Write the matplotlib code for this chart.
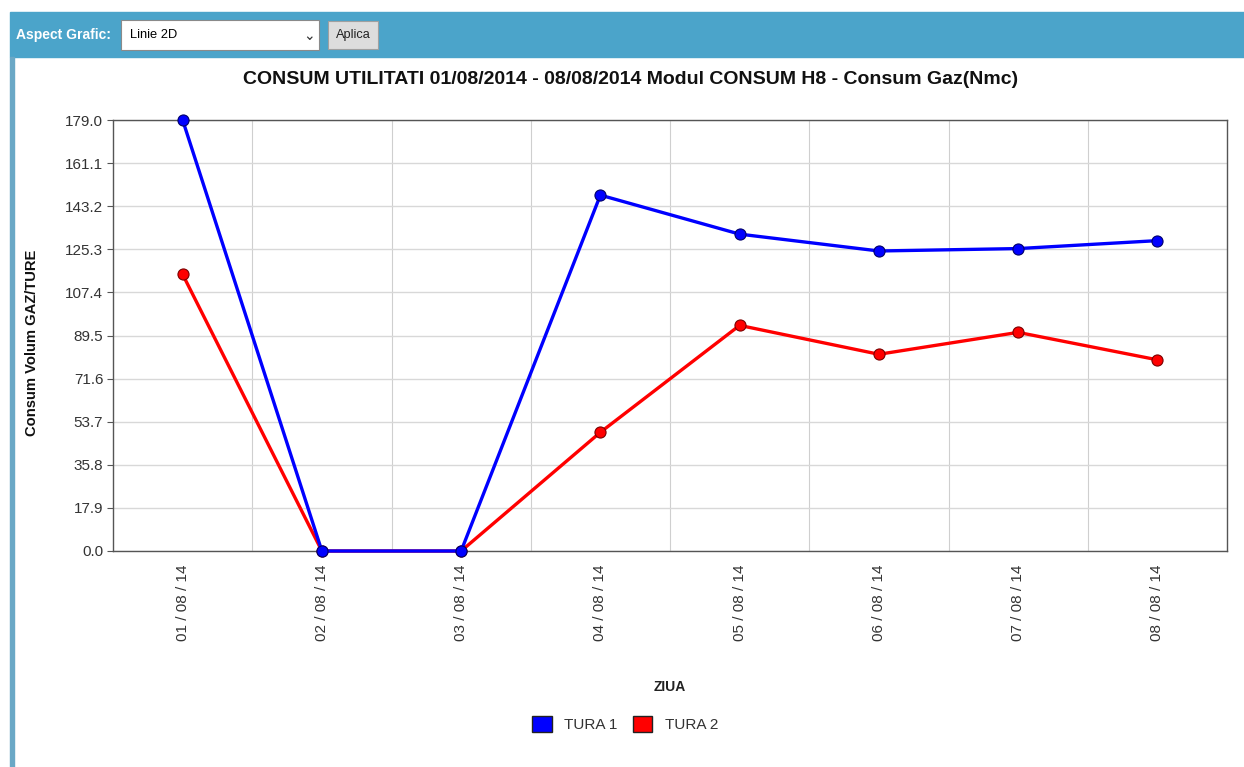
import matplotlib.pyplot as plt
from matplotlib.patches import Rectangle, Patch
import numpy as np

plt.rcParams["font.family"] = ["Liberation Sans", "DejaVu Sans"]

zile = ["01 / 08 / 14", "02 / 08 / 14", "03 / 08 / 14", "04 / 08 / 14",
        "05 / 08 / 14", "06 / 08 / 14", "07 / 08 / 14", "08 / 08 / 14"]
tura1 = [179.0, 0.0, 0.0, 147.8, 131.6, 124.6, 125.6, 128.9]
tura2 = [114.9, 0.0, 0.0, 49.3, 93.7, 81.7, 90.8, 79.4]
y_ticks = [0.0, 17.9, 35.8, 53.7, 71.6, 89.5, 107.4, 125.3, 143.2, 161.1, 179.0]

W, H = 1244, 767
fig = plt.figure(figsize=(W / 100, H / 100), dpi=100)

def fx(px):
    return px / W

def fy(py):
    return 1 - py / H

# bara de sus a paginii
azul = "#4ba4ca"
fig.patches.append(Rectangle((fx(10), fy(57)), fx(1234), fy(12) - fy(57),
                             transform=fig.transFigure, color=azul, zorder=0))
fig.patches.append(Rectangle((fx(10), 0), fx(4), fy(57),
                             transform=fig.transFigure, color="#6aa8c6", zorder=0))
fig.text(fx(16), fy(35), "Aspect Grafic:", color="white", fontsize=10,
         fontweight="bold", va="center", ha="left")
fig.patches.append(Rectangle((fx(121), fy(50)), fx(198), fy(20) - fy(50),
                             transform=fig.transFigure, facecolor="white",
                             edgecolor="#8a8a8a", lw=0.8, zorder=1))
fig.text(fx(130), fy(35), "Linie 2D", color="black", fontsize=9.3, va="center")
fig.text(fx(309), fy(36), "\u2304", color="#333333", fontsize=10, va="center",
         ha="center", family=["DejaVu Sans"])
fig.patches.append(Rectangle((fx(328), fy(49)), fx(50), fy(21) - fy(49),
                             transform=fig.transFigure, facecolor="#dddddd",
                             edgecolor="#a0a0a0", lw=0.8, zorder=1))
fig.text(fx(353), fy(35), "Aplica", color="#222222", fontsize=9.2,
         va="center", ha="center")

# graficul
ax = fig.add_axes([fx(113), fy(551), fx(1227) - fx(113), fy(120) - fy(551)])
x = np.arange(len(zile))

ax.plot(x, tura1, color="#0000ff", lw=2.4, marker="o", markersize=8,
        markerfacecolor="#0000ff", markeredgecolor="#00006a", markeredgewidth=0.8,
        clip_on=False, zorder=4)
ax.plot(x, tura2, color="#ff0000", lw=2.4, marker="o", markersize=8,
        markerfacecolor="#ff0000", markeredgecolor="#7a0000", markeredgewidth=0.8,
        clip_on=False, zorder=3)

ax.set_xlim(-0.5, len(zile) - 0.5)
ax.set_ylim(0, 179.0)
ax.set_yticks(y_ticks)
ax.set_yticklabels([f"{v:.1f}" for v in y_ticks], fontsize=11, color="#333333")
ax.set_xticks(x)
ax.set_xticklabels(zile, rotation=90, fontsize=11, color="#333333")
ax.set_xticks(np.arange(0.5, len(zile) - 1, 1.0), minor=True)
ax.tick_params(axis="x", which="both", length=0, pad=10)
ax.tick_params(axis="y", length=4, color="#555555", pad=3)
ax.grid(axis="y", color="#d8d8d8", lw=1)
ax.grid(axis="x", which="minor", color="#cfcfcf", lw=0.8)
ax.set_axisbelow(True)
for s in ax.spines.values():
    s.set_color("#555555")
    s.set_linewidth(1.0)

fig.text(fx(631), fy(80), "CONSUM UTILITATI 01/08/2014 - 08/08/2014 Modul CONSUM H8 - Consum Gaz(Nmc)",
         fontsize=14, fontweight="bold", ha="center", va="center", color="#111111")
fig.text(fx(32), fy(343), "Consum Volum GAZ/TURE", fontsize=10.6, fontweight="bold",
         rotation=90, ha="center", va="center", color="#111111")
fig.text(fx(670), fy(687), "ZIUA", fontsize=10, fontweight="bold",
         ha="center", va="center", color="#222222")

leyenda = [
    Patch(facecolor="#0000ff", edgecolor="#222222", label="TURA 1"),
    Patch(facecolor="#ff0000", edgecolor="#222222", label="TURA 2"),
]
fig.legend(handles=leyenda, loc="center", bbox_to_anchor=(fx(625), fy(724)),
           ncol=2, frameon=False, fontsize=11, handlelength=1.3, handleheight=1.3,
           columnspacing=1.0, handletextpad=0.8, labelcolor="#333333")

fig.savefig("out.png", dpi=100)
